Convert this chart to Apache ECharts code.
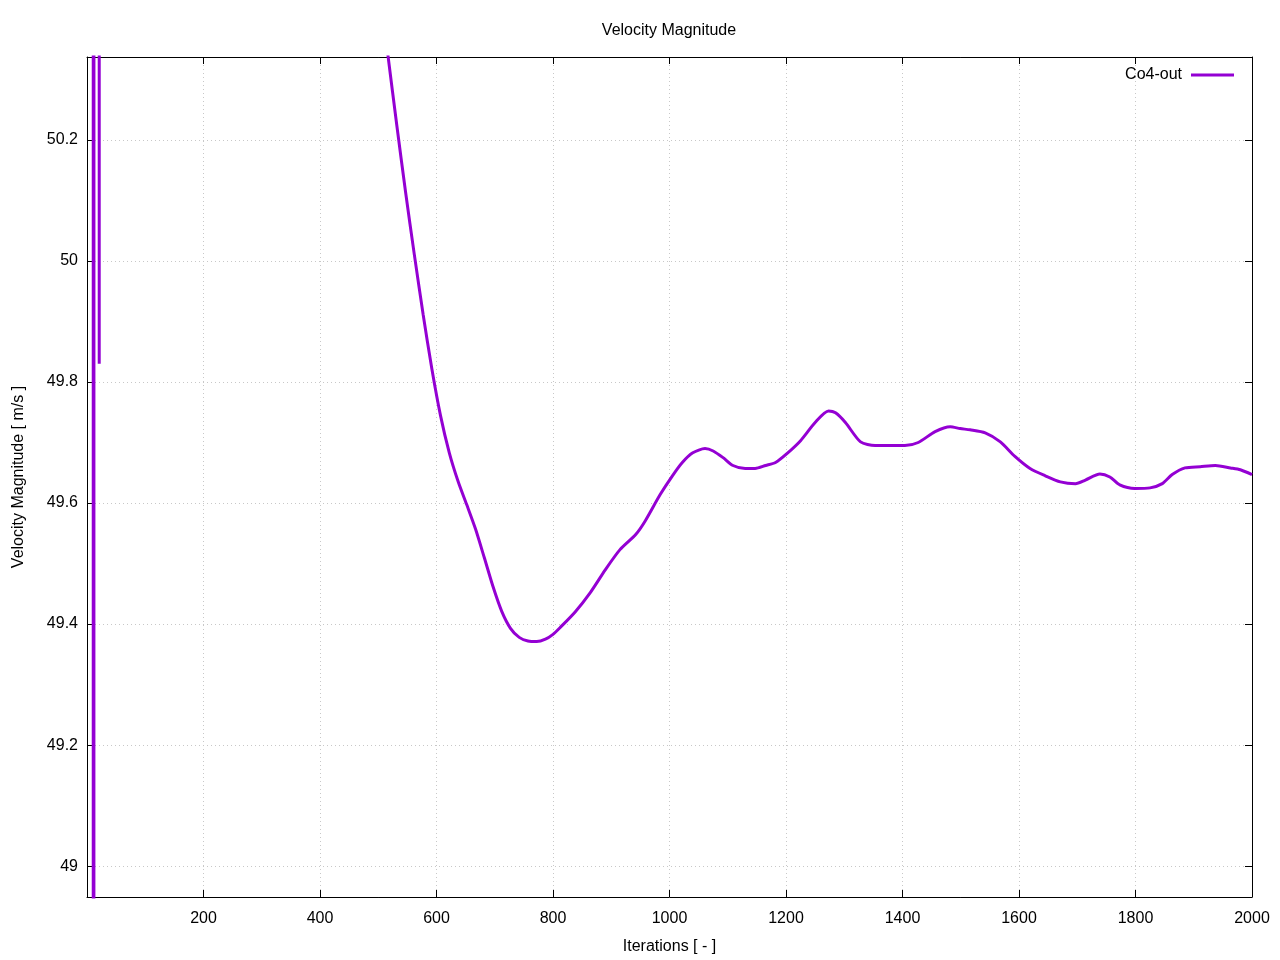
<!DOCTYPE html>
<html>
<head>
<meta charset="utf-8">
<script src="https://cdn.jsdelivr.net/npm/echarts@6/dist/echarts.min.js"></script>
<style>
html,body{margin:0;padding:0;background:#fff;}
#chart{width:1280px;height:960px;}
</style>
</head>
<body>
<div id="chart"></div>
<script>
// Early start-up oscillation (mostly off-scale)
const earlyIter = [1, 5, 10, 11, 12, 13, 14, 18, 20, 21, 22, 40, 80, 150, 250, 350, 420, 470, 500];
const earlyVal  = [300, 200, 120, 20, 20, 20, 120, 120, 120, 49.83, 120, 90, 70, 58, 54, 52.2, 51.3, 50.8, 50.47];

// Main settling curve
const mainIter = [500, 517, 532, 547, 562, 577, 592, 607, 622, 637, 652, 667, 682, 697, 712, 727, 742, 757, 772, 787, 800, 812, 838, 864, 890, 915, 942, 958, 984, 1005, 1022, 1040, 1061, 1075, 1092, 1109, 1130, 1147, 1165, 1182, 1202, 1225, 1250, 1273, 1285, 1302, 1328, 1353, 1379, 1404, 1427, 1456, 1482, 1499, 1516, 1542, 1568, 1593, 1619, 1645, 1671, 1697, 1714, 1739, 1756, 1773, 1799, 1825, 1846, 1863, 1885, 1911, 1937, 1963, 1980, 2000];
const mainVal  = [50.47, 50.337, 50.223, 50.113, 50.010, 49.912, 49.822, 49.744, 49.683, 49.636, 49.597, 49.557, 49.510, 49.462, 49.421, 49.393, 49.378, 49.372, 49.371, 49.375, 49.383, 49.394, 49.42, 49.452, 49.49, 49.523, 49.548, 49.57, 49.614, 49.645, 49.667, 49.683, 49.69, 49.686, 49.675, 49.662, 49.657, 49.657, 49.662, 49.667, 49.682, 49.703, 49.733, 49.752, 49.749, 49.733, 49.701, 49.695, 49.695, 49.695, 49.70, 49.718, 49.726, 49.723, 49.721, 49.716, 49.701, 49.677, 49.657, 49.645, 49.635, 49.632, 49.638, 49.648, 49.643, 49.63, 49.624, 49.625, 49.632, 49.647, 49.658, 49.66, 49.662, 49.658, 49.655, 49.647];

const yTicks = [49, 49.2, 49.4, 49.6, 49.8, 50, 50.2];
const xMin = 0, xMax = 2000, xStep = 200;
const yMin = 48.949, yMax = 50.337;

const seriesName = 'Co4-out';
const lineColor = '#9400D3';
const font = 'Liberation Sans, Arial, sans-serif';

const zip = (a, b) => a.map((v, i) => [v, b[i]]);

const chart = echarts.init(document.getElementById('chart'), null, {renderer: 'canvas'});

const baseAxisLine = {show: true, onZero: false, lineStyle: {color: '#000', width: 1}};
const tickStyle = {show: true, inside: true, length: 7, lineStyle: {color: '#000', width: 1}};

chart.setOption({
  animation: false,
  backgroundColor: '#fff',
  title: {
    text: 'Velocity Magnitude',
    left: 669, top: 23, textAlign: 'center', padding: 0,
    textStyle: {fontFamily: font, fontSize: 16, fontWeight: 'normal', color: '#000'}
  },
  legend: {
    right: 46, top: 67, padding: 0,
    align: 'right',
    itemWidth: 43, itemHeight: 14, itemGap: 0,
    textStyle: {fontFamily: font, fontSize: 16, color: '#000', padding: [0, 4, 0, 0]},
    data: [{name: seriesName, icon: 'path://M0,0 L43,0 L43,3 L0,3 Z'}]
  },
  grid: {left: 87, right: 28, top: 57, bottom: 62, containLabel: false},
  xAxis: [{
    type: 'value', min: xMin, max: xMax, interval: xStep, position: 'bottom',
    name: 'Iterations [ - ]', nameLocation: 'middle', nameGap: 42,
    nameTextStyle: {fontFamily: font, fontSize: 16, color: '#000'},
    axisLine: baseAxisLine, axisTick: tickStyle,
    axisLabel: {fontFamily: font, fontSize: 16, color: '#000', margin: 14,
      formatter: v => v === 0 ? '' : String(v)},
    splitLine: {show: true, lineStyle: {color: '#c8c8c8', width: 1, type: [1, 3]}}
  }, {
    type: 'value', min: xMin, max: xMax, interval: xStep, position: 'top',
    axisLine: baseAxisLine, axisTick: tickStyle,
    axisLabel: {show: false}, splitLine: {show: false}
  }],
  yAxis: [{
    type: 'value', min: yMin, max: yMax, position: 'left',
    name: 'Velocity Magnitude [ m/s ]', nameLocation: 'middle', nameGap: 60,
    nameTextStyle: {fontFamily: font, fontSize: 16, color: '#000'},
    axisLine: baseAxisLine,
    axisTick: Object.assign({}, tickStyle, {customValues: yTicks}),
    axisLabel: {fontFamily: font, fontSize: 16, color: '#000', margin: 9,
      customValues: yTicks, formatter: v => String(Math.round(v * 10) / 10)},
    splitLine: {show: true, lineStyle: {color: '#c8c8c8', width: 1, type: [1, 3]}}
  }, {
    type: 'value', min: yMin, max: yMax, position: 'right',
    axisLine: baseAxisLine,
    axisTick: Object.assign({}, tickStyle, {customValues: yTicks}),
    axisLabel: {show: false}, splitLine: {show: false}
  }],
  series: [{
    name: seriesName, type: 'line', xAxisIndex: 0, yAxisIndex: 0,
    data: zip(earlyIter, earlyVal), showSymbol: false, symbol: 'none',
    clip: true, lineStyle: {color: lineColor, width: 3}, itemStyle: {color: lineColor}
  }, {
    name: seriesName, type: 'line', xAxisIndex: 0, yAxisIndex: 0,
    data: zip(mainIter, mainVal), showSymbol: false, symbol: 'none', smooth: 0.25,
    clip: true, lineStyle: {color: lineColor, width: 3}, itemStyle: {color: lineColor}
  }]
});
</script>
</body>
</html>
